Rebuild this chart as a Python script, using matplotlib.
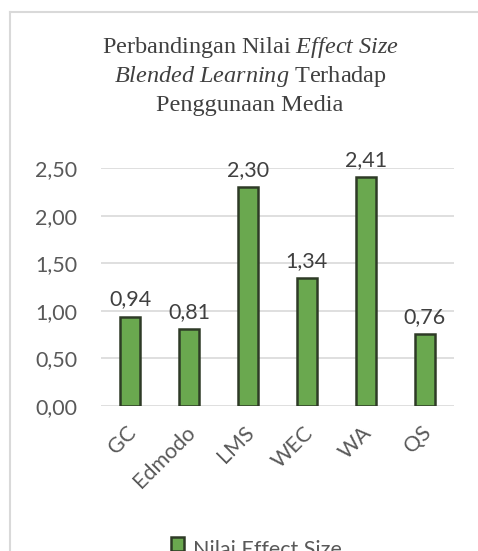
import matplotlib
matplotlib.use("Agg")
import matplotlib.pyplot as plt
import matplotlib.transforms as mtransforms
from matplotlib.patches import Rectangle
from matplotlib.lines import Line2D

categories = ["GC", "Edmodo", "LMS", "WEC", "WA", "QS"]
values = [0.94, 0.81, 2.30, 1.34, 2.41, 0.76]
yticks = [0.0, 0.5, 1.0, 1.5, 2.0, 2.5]
ytick_labels = ["0,00", "0,50", "1,00", "1,50", "2,00", "2,50"]
series_name = "Nilai Effect Size"

plt.rcParams['mathtext.fontset'] = 'custom'
plt.rcParams['mathtext.rm'] = 'Liberation Serif'
plt.rcParams['mathtext.it'] = 'Liberation Serif:italic'

W, H = 478, 551
fig = plt.figure(figsize=(W/100, H/100), dpi=100)
fig.patch.set_facecolor('white')

# outer chart border
fig.add_artist(Line2D([10/W, 10/W], [0, 1-12/H], color='#d9d9d9', lw=1.5, transform=fig.transFigure))
fig.add_artist(Line2D([10/W, 1.0], [1-12/H, 1-12/H], color='#d9d9d9', lw=1.5, transform=fig.transFigure))

FS = 15.5
ax = fig.add_axes([101/W, (H-406)/H, 353/W, (406-168)/H])
x = list(range(len(categories)))
bars = ax.bar(x, values, width=0.34, color='#6aa84f', edgecolor='#2e3b26', linewidth=1.8, zorder=3)
ax.set_xlim(-0.5, len(categories)-0.5)
ax.set_ylim(0, 2.5)
ax.set_yticks(yticks)
ax.set_yticklabels(ytick_labels)
ax.yaxis.grid(True, color='#d9d9d9', lw=1.2, zorder=0)
ax.set_axisbelow(True)
for s in ax.spines.values():
    s.set_visible(False)
ax.tick_params(length=0)
ax.tick_params(axis='y', labelsize=FS, labelcolor='#595959', pad=17)
ax.set_xticks(x)
ax.set_xticklabels(categories, rotation=45, ha='right', rotation_mode='anchor',
                   fontsize=FS, color='#595959', family='Lato')
ax.tick_params(axis='x', pad=12)
shift = mtransforms.ScaledTranslation(-4/100, 0, fig.dpi_scale_trans)
for lab in ax.get_xticklabels():
    lab.set_transform(lab.get_transform() + shift)
for lab in ax.get_yticklabels():
    lab.set_family('Lato')

for xi, v in zip(x, values):
    ax.annotate(f"{v:.2f}".replace('.', ','), (xi, v), xytext=(0, 5), textcoords='offset points',
                ha='center', va='bottom', fontsize=FS, color='#404040', family='Lato',
                annotation_clip=False)

# title
title_lines = [r"Perbandingan Nilai $\mathit{Effect\ Size}$",
               r"$\mathit{Blended\ Learning}$ Terhadap",
               "Penggunaan Media"]
for i, t in enumerate(title_lines):
    fig.text(250/W, 1-(47+29*i)/H, t, ha='center', va='center', fontsize=17.5,
             family='Liberation Serif', color='#404040')

# legend (partly cut off at bottom, as in the reference)
fig.add_artist(Rectangle((171/W, 1-551/H), 13/W, 14/H, facecolor='#6aa84f', edgecolor='#2e3b26',
                         lw=1.8, transform=fig.transFigure))
fig.text(193/W, 1-550/H, series_name, ha='left', va='center', fontsize=FS,
         family='Lato', color='#595959')

fig.savefig("out.png", dpi=100, facecolor='white')
